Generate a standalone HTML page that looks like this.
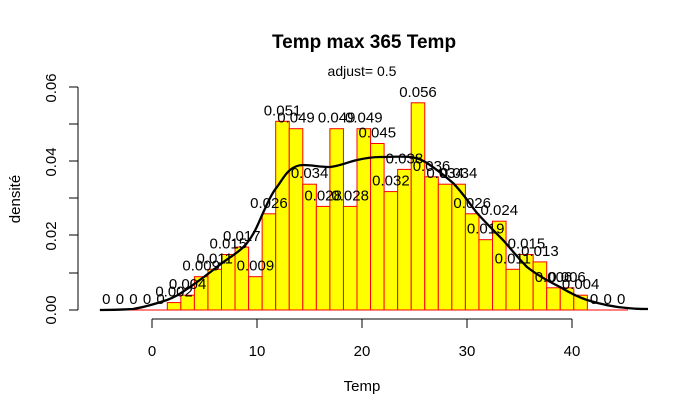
<!DOCTYPE html>
<html><head><meta charset="utf-8"><style>body{margin:0;background:#fff}svg{display:block}</style></head>
<body>
<svg width="689" height="417" xmlns="http://www.w3.org/2000/svg" font-family="Liberation Sans, Arial, sans-serif">
<rect width="689" height="417" fill="#fff"/>
<text x="364" y="48" font-size="19" font-weight="bold" text-anchor="middle">Temp max 365 Temp</text>
<text x="362" y="76" font-size="14" text-anchor="middle">adjust= 0.5</text>
<g fill="#ffff00" stroke="#ff0000" stroke-width="1">
<path d="M99.55,310 H167.3 M587.35,310 H628" />
<rect x="167.3" y="302.6" width="13.55" height="7.4"/>
<rect x="180.85" y="295.2" width="13.55" height="14.8"/>
<rect x="194.4" y="276.7" width="13.55" height="33.3"/>
<rect x="207.95" y="269.3" width="13.55" height="40.7"/>
<rect x="221.5" y="254.5" width="13.55" height="55.5"/>
<rect x="235.05" y="247.1" width="13.55" height="62.9"/>
<rect x="248.6" y="276.7" width="13.55" height="33.3"/>
<rect x="262.15" y="213.8" width="13.55" height="96.2"/>
<rect x="275.7" y="121.3" width="13.55" height="188.7"/>
<rect x="289.25" y="128.7" width="13.55" height="181.3"/>
<rect x="302.8" y="184.2" width="13.55" height="125.8"/>
<rect x="316.35" y="206.4" width="13.55" height="103.6"/>
<rect x="329.9" y="128.7" width="13.55" height="181.3"/>
<rect x="343.45" y="206.4" width="13.55" height="103.6"/>
<rect x="357.0" y="128.7" width="13.55" height="181.3"/>
<rect x="370.55" y="143.5" width="13.55" height="166.5"/>
<rect x="384.1" y="191.6" width="13.55" height="118.4"/>
<rect x="397.65" y="169.4" width="13.55" height="140.6"/>
<rect x="411.2" y="102.8" width="13.55" height="207.2"/>
<rect x="424.75" y="176.8" width="13.55" height="133.2"/>
<rect x="438.3" y="184.2" width="13.55" height="125.8"/>
<rect x="451.85" y="184.2" width="13.55" height="125.8"/>
<rect x="465.4" y="213.8" width="13.55" height="96.2"/>
<rect x="478.95" y="239.7" width="13.55" height="70.3"/>
<rect x="492.5" y="221.2" width="13.55" height="88.8"/>
<rect x="506.05" y="269.3" width="13.55" height="40.7"/>
<rect x="519.6" y="254.5" width="13.55" height="55.5"/>
<rect x="533.15" y="261.9" width="13.55" height="48.1"/>
<rect x="546.7" y="287.8" width="13.55" height="22.2"/>
<rect x="560.25" y="287.8" width="13.55" height="22.2"/>
<rect x="573.8" y="295.2" width="13.55" height="14.8"/>
</g>
<path d="M100,310 C115,310 125,309.5 133,309 C145,307 155,304 167,300 C178,296 182,292 190,287 C200,280 208,274 217,267 C228,258 240,252 247,243 C255,233 258,224 263,213 C268,202 272,193 277,187 C282,180 285,174 290,170 C295,166 299,165 303,165 C312,165 320,167 330,167 C340,166 348,162 357,160 C366,158 372,157 380,157 C392,157 402,156 410,157 C418,158 422,160 427,163 C436,169 445,176 453,183 C462,192 470,204 477,213 C486,223 495,232 503,240 C511,249 519,259 527,267 C537,275 550,282 560,287 C570,293 578,297 587,300 C600,304 613,307 627,308 C635,309 642,309 648,309" fill="none" stroke="#000" stroke-width="2.3"/>
<g font-size="15" text-anchor="middle" fill="#000">
<text x="106.3" y="304">0</text><text x="119.9" y="304">0</text><text x="133.4" y="304">0</text><text x="147" y="304">0</text><text x="160.5" y="304">0</text>
<text x="174.1" y="296.6">0.002</text>
<text x="187.6" y="289.2">0.004</text>
<text x="201.2" y="270.7">0.009</text>
<text x="214.7" y="263.3">0.011</text>
<text x="228.3" y="248.5">0.015</text>
<text x="241.8" y="241.1">0.017</text>
<text x="255.4" y="270.7">0.009</text>
<text x="268.9" y="207.8">0.026</text>
<text x="282.5" y="115.3">0.051</text>
<text x="296" y="122.7">0.049</text>
<text x="309.6" y="178.2">0.034</text>
<text x="323.1" y="200.4">0.028</text>
<text x="336.7" y="122.7">0.049</text>
<text x="350.2" y="200.4">0.028</text>
<text x="363.8" y="122.7">0.049</text>
<text x="377.3" y="137.5">0.045</text>
<text x="390.9" y="185.6">0.032</text>
<text x="404.4" y="163.4">0.038</text>
<text x="418" y="96.8">0.056</text>
<text x="431.5" y="170.8">0.036</text>
<text x="445.1" y="178.2">0.034</text>
<text x="458.6" y="178.2">0.034</text>
<text x="472.2" y="207.8">0.026</text>
<text x="485.7" y="233.7">0.019</text>
<text x="499.3" y="215.2">0.024</text>
<text x="512.8" y="263.3">0.011</text>
<text x="526.4" y="248.5">0.015</text>
<text x="539.9" y="255.9">0.013</text>
<text x="553.5" y="281.8">0.006</text>
<text x="567" y="281.8">0.006</text>
<text x="580.6" y="289.2">0.004</text>
<text x="594.1" y="304">0</text><text x="607.7" y="304">0</text><text x="621.2" y="304">0</text>
</g>
<g stroke="#000" stroke-width="1" fill="none">
<path d="M78,87 V310 M69,87 H78 M69,124 H78 M69,161 H78 M69,198 H78 M69,235 H78 M69,273 H78 M69,310 H78"/>
<path d="M152,319 H572 M152,319 V328 M257,319 V328 M362,319 V328 M467,319 V328 M572,319 V328"/>
</g>
<g font-size="15" text-anchor="middle">
<text transform="translate(56,88) rotate(-90)">0.06</text>
<text transform="translate(56,162) rotate(-90)">0.04</text>
<text transform="translate(56,236) rotate(-90)">0.02</text>
<text transform="translate(56,310) rotate(-90)">0.00</text>
<text transform="translate(20,199) rotate(-90)">densité</text>
<text x="152" y="356">0</text><text x="257" y="356">10</text><text x="362" y="356">20</text><text x="467" y="356">30</text><text x="572" y="356">40</text>
<text x="362" y="391">Temp</text>
</g>
</svg>
</body></html>
